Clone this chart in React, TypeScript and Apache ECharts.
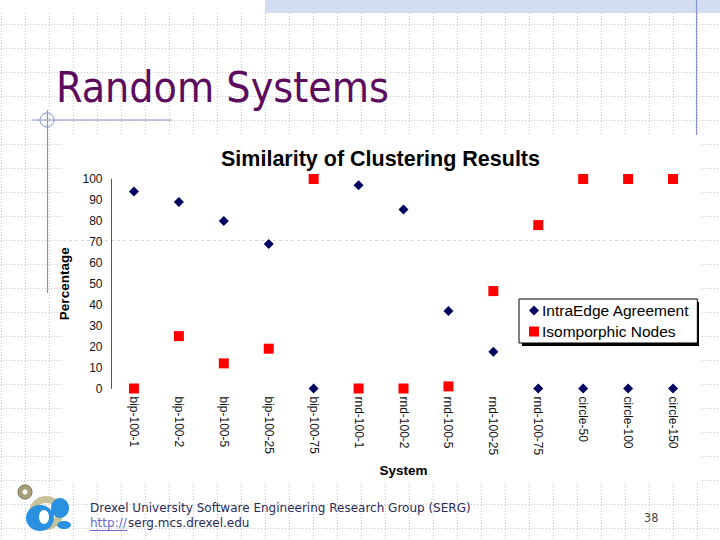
import React, { useEffect, useRef } from "react";
import * as echarts from "echarts";

const categories = [
  "bip-100-1", "bip-100-2", "bip-100-5", "bip-100-25", "bip-100-75",
  "rnd-100-1", "rnd-100-2", "rnd-100-5", "rnd-100-25", "rnd-100-75",
  "circle-50", "circle-100", "circle-150",
];
const intraEdge = [94, 89, 80, 69, 0, 97, 85.5, 37, 17.5, 0, 0, 0, 0];
const isomorphic = [0, 25, 12, 19, 100, 0, 0, 1, 46.5, 78, 100, 100, 100];
const seriesNames = ["IntraEdge Agreement", "Isomporphic Nodes"];
const yMin = 0;
const yMax = 100;
const yStep = 10;

const W = 720;
const H = 540;

function buildBackground(): any[] {
  const els: any[] = [];
  const gridStyle = { stroke: "#c9c9c9", lineWidth: 1, lineDash: [1, 2] };
  for (let y = 24; y < H; y += 24) {
    els.push({ type: "line", shape: { x1: 0, y1: y + 0.5, x2: W, y2: y + 0.5 }, style: gridStyle, silent: true });
  }
  for (let x = 1; x < W; x += 24) {
    els.push({ type: "line", shape: { x1: x + 0.5, y1: 13, x2: x + 0.5, y2: H }, style: gridStyle, silent: true });
  }
  els.push({ type: "rect", shape: { x: 265, y: 0, width: W - 265, height: 13 }, style: { fill: "#d3ddef" }, silent: true });
  els.push({ type: "rect", shape: { x: 63, y: 135, width: 637, height: 348 }, style: { fill: "#ffffff" }, silent: true });
  els.push({ type: "line", shape: { x1: 63, y1: 240.5, x2: 700, y2: 240.5 }, style: { stroke: "#d8d8d8", lineWidth: 1, lineDash: [3, 3] }, silent: true });
  els.push({ type: "line", shape: { x1: 696.5, y1: 0, x2: 696.5, y2: 135 }, style: { stroke: "#8595c8", lineWidth: 1.2 }, silent: true });
  els.push({ type: "line", shape: { x1: 32, y1: 120, x2: 172, y2: 120 }, style: { stroke: "#8595c8", lineWidth: 1.2 }, silent: true });
  els.push({ type: "line", shape: { x1: 47.5, y1: 110, x2: 47.5, y2: 293 }, style: { stroke: "#8595c8", lineWidth: 1.2 }, silent: true });
  els.push({ type: "circle", shape: { cx: 47, cy: 120, r: 7 }, style: { fill: "none", stroke: "#8595c8", lineWidth: 1 }, silent: true });
  return els;
}

function buildForeground(): any[] {
  const els: any[] = [];
  els.push({
    type: "text", x: 56, y: 87,
    style: { text: "Random Systems", fill: "#5c0c5e", font: "42.5px 'DejaVu Sans Condensed', 'DejaVu Sans', sans-serif", textVerticalAlign: "middle" },
  });
  // legend shadow
  els.push({ type: "rect", z: 1, shape: { x: 522, y: 302, width: 177, height: 44 }, style: { fill: "#000" }, silent: true });
  const footFont = "12px 'DejaVu Sans', sans-serif";
  els.push({
    type: "text", x: 90, y: 508,
    style: { text: "Drexel University Software Engineering Research Group (SERG)", fill: "#2a2a5a", font: footFont, textVerticalAlign: "middle" },
  });
  els.push({
    type: "text", x: 90, y: 523,
    style: { text: "http://", fill: "#6a6ad0", font: footFont, textVerticalAlign: "middle" },
  });
  els.push({ type: "line", shape: { x1: 90, y1: 530.5, x2: 127, y2: 530.5 }, style: { stroke: "#6a6ad0", lineWidth: 1 } });
  els.push({
    type: "text", x: 128, y: 523,
    style: { text: "serg.mcs.drexel.edu", fill: "#2a2a5a", font: footFont, textVerticalAlign: "middle" },
  });
  els.push({
    type: "text", x: 644, y: 517,
    style: { text: "38", fill: "#444", font: "12.5px 'DejaVu Sans Condensed', sans-serif", textVerticalAlign: "middle" },
  });
  // logo approximation
  els.push({ type: "circle", shape: { cx: 25, cy: 492, r: 7 }, style: { fill: "#a8a07a", stroke: "#777055", lineWidth: 1 } });
  els.push({ type: "circle", shape: { cx: 25, cy: 492, r: 2.5 }, style: { fill: "#fff" } });
  els.push({ type: "ring", shape: { cx: 46, cy: 513, r: 17, r0: 10 }, style: { fill: "#c9c19a" } });
  els.push({ type: "ellipse", shape: { cx: 40, cy: 518, rx: 14, ry: 13 }, style: { fill: "#2a90e0" } });
  els.push({ type: "ellipse", shape: { cx: 60, cy: 508, rx: 9, ry: 10 }, style: { fill: "#2a90e0" } });
  els.push({ type: "ellipse", shape: { cx: 44, cy: 517, rx: 5, ry: 7 }, style: { fill: "#ffffff" } });
  els.push({ type: "ellipse", shape: { cx: 64, cy: 525, rx: 7, ry: 4 }, style: { fill: "#2a90e0" } });
  return els;
}

export default function App() {
  const ref = useRef<HTMLDivElement>(null);
  useEffect(() => {
    if (!ref.current) return;
    const chart = echarts.init(ref.current, undefined, { renderer: "svg", width: W, height: H });
    const axisFont = "'Liberation Sans', Arial, sans-serif";
    chart.setOption({
      animation: false,
      backgroundColor: "#ffffff",
      title: {
        text: "Similarity of Clustering Results",
        left: 216,
        top: 143,
        textStyle: { fontFamily: axisFont, fontSize: 21.5, fontWeight: "bold", color: "#000" },
      },
      grid: { left: 111.5, right: 24.5, top: 179, bottom: 151.5, containLabel: false },
      legend: {
        orient: "vertical",
        left: 519,
        top: 299,
        data: [
          { name: seriesNames[0], icon: "diamond", itemStyle: { color: "#00005e", opacity: 1 } },
          { name: seriesNames[1], icon: "rect", itemStyle: { color: "#ff0000", opacity: 1 } },
        ],
        itemWidth: 10,
        itemHeight: 10,
        itemGap: 4,
        padding: [3, 8, 3, 10],
        backgroundColor: "#ffffff",
        borderColor: "#000",
        borderWidth: 1,
        borderRadius: 0,
        z: 5,
        textStyle: { fontFamily: axisFont, fontSize: 15.5, lineHeight: 17, color: "#000", padding: [0, 0, 0, -2] },
      },
      xAxis: {
        type: "category",
        data: categories,
        boundaryGap: true,
        name: "System",
        nameLocation: "middle",
        nameGap: 75,
        nameTextStyle: { fontFamily: axisFont, fontSize: 13.5, fontWeight: "bold", color: "#000" },
        axisLine: { show: false },
        axisTick: { show: false },
        axisLabel: { rotate: -90, margin: 8, fontFamily: axisFont, fontSize: 12, color: "#111", interval: 0 },
        splitLine: { show: false },
      },
      yAxis: {
        type: "value",
        min: yMin,
        max: yMax,
        interval: yStep,
        name: "Percentage",
        nameLocation: "middle",
        nameGap: 35.5,
        nameRotate: 90,
        nameTextStyle: { fontFamily: axisFont, fontSize: 13.5, fontWeight: "bold", color: "#000" },
        axisLine: { show: true, lineStyle: { color: "#555", width: 1 } },
        axisTick: { show: false },
        axisLabel: { margin: 9, fontFamily: axisFont, fontSize: 12, color: "#111" },
        splitLine: { show: false },
      },
      graphic: [
        { type: "group", z: -10, children: buildBackground() },
        { type: "group", z: 1, children: buildForeground() },
      ],
      series: [
        {
          name: seriesNames[0],
          type: "scatter",
          data: intraEdge,
          symbol: "diamond",
          symbolSize: 10,
          itemStyle: { color: "#00005e", opacity: 1 },
          z: 3,
        },
        {
          name: seriesNames[1],
          type: "scatter",
          data: isomorphic,
          symbol: "rect",
          symbolSize: 10,
          itemStyle: { color: "#ff0000", opacity: 1 },
          z: 3,
        },
      ],
    });
    return () => chart.dispose();
  }, []);
  return <div ref={ref} style={{ width: W, height: H, position: "absolute", left: 0, top: 0 }} />;
}
